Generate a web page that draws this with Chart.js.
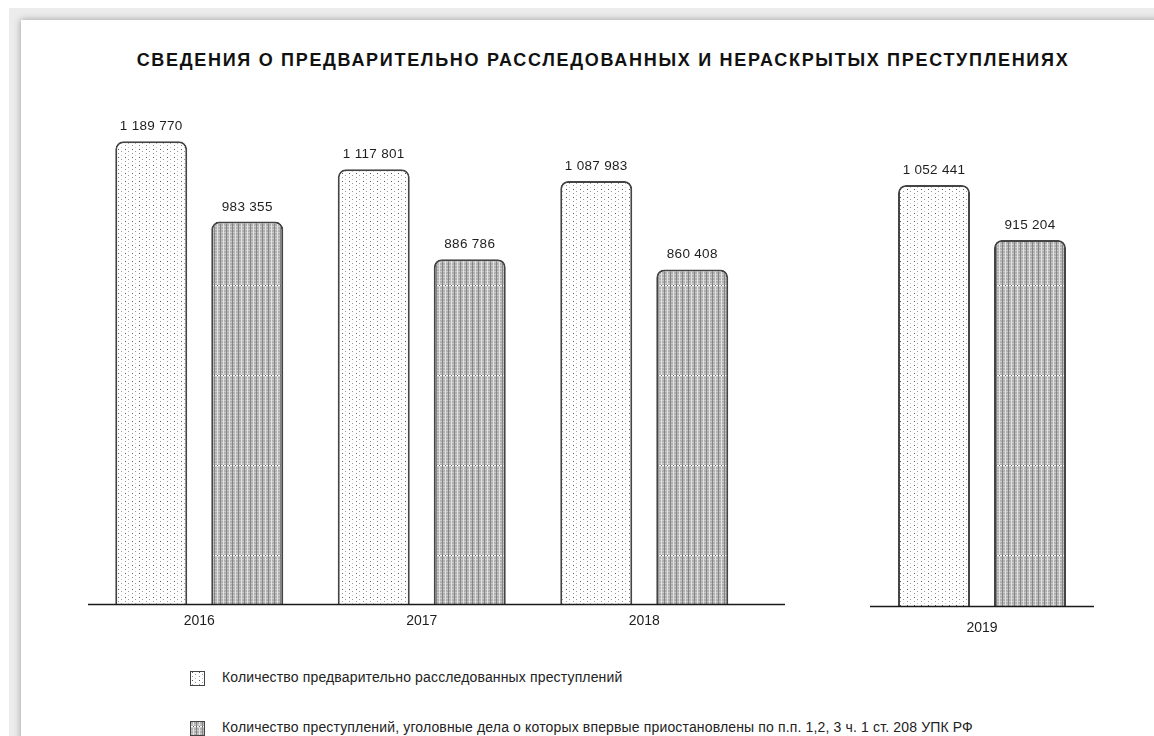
<!DOCTYPE html>
<html lang="ru">
<head>
<meta charset="utf-8">
<script src="https://cdn.jsdelivr.net/npm/chart.js@4"></script>
<style>
  html, body { margin: 0; padding: 0; background: #fff; }
  body { width: 1154px; height: 736px; position: relative; overflow: hidden; font-family: "Liberation Sans", Arial, sans-serif; color: #1e1e1e; }
  #frame { position: absolute; left: 9px; top: 8px; right: 0; bottom: 0; background: #ececec; }
  #page { position: absolute; left: 21px; top: 20px; right: -20px; bottom: -20px; background: #fff; box-shadow: 0 0 7px rgba(0,0,0,0.35); }
  #title { position: absolute; left: 103px; width: 1000px; top: 50px; text-align: center; font-weight: bold; font-size: 18px; letter-spacing: 1.7px; color: #111; }
  canvas.chart { position: absolute; top: 100px; }
  #c1 { left: 88px; }
  #c2 { left: 870px; }
  .leg { position: absolute; left: 190px; font-size: 14px; letter-spacing: 0.15px; color: #222; }
  .leg canvas { position: absolute; left: 0; top: 0; }
  .leg span { position: absolute; left: 32px; top: -2px; white-space: nowrap; }
</style>
</head>
<body>
<div id="frame"></div>
<div id="page"></div>
<div id="title">СВЕДЕНИЯ О ПРЕДВАРИТЕЛЬНО РАССЛЕДОВАННЫХ И НЕРАСКРЫТЫХ ПРЕСТУПЛЕНИЯХ</div>
<canvas id="c1" class="chart" width="697" height="540"></canvas>
<canvas id="c2" class="chart" width="224" height="542"></canvas>
<div class="leg" style="top:671px"><canvas id="l1" width="15" height="15"></canvas><span id="t1"></span></div>
<div class="leg" style="top:721px"><canvas id="l2" width="15" height="15"></canvas><span id="t2"></span></div>
<script>
// data
const years1 = ["2016", "2017", "2018"];
const investigated1 = [1189770, 1117801, 1087983];
const suspended1 = [983355, 886786, 860408];

const years2 = ["2019"];
const investigated2 = [1052441];
const suspended2 = [915204];

const seriesNames = [
    "Количество предварительно расследованных преступлений",
    "Количество преступлений, уголовные дела о которых впервые приостановлены по п.п. 1,2, 3 ч. 1 ст. 208 УПК РФ"
];

const FONT = '"Liberation Sans", Arial, sans-serif';

// fill patterns
function dotPattern(ctx) {
    const c = document.createElement("canvas");
    c.width = 7; c.height = 8;
    const g = c.getContext("2d");
    g.fillStyle = "#fff"; g.fillRect(0, 0, 7, 8);
    g.fillStyle = "#555";
    g.fillRect(2, 1, 1, 1);
    g.fillStyle = "#999";
    g.fillRect(2, 5, 1, 1);
    g.fillRect(5, 3, 1, 1);
    g.fillStyle = "#c4c4c4";
    g.fillRect(5, 7, 1, 1);
    return ctx.createPattern(c, "repeat");
}

function hatchPattern(ctx) {
    const c = document.createElement("canvas");
    c.width = 6; c.height = 90;
    const g = c.getContext("2d");
    g.fillStyle = "#b0b0b0"; g.fillRect(0, 0, 6, 90);
    for (let y = 0; y < 90; y++) {
        g.fillStyle = "#858585"; g.fillRect(0, y, 1, 1);
        g.fillStyle = "#e2e2e2"; g.fillRect(3, y, 1, 1);
        if (y % 3 === 0) { g.fillStyle = "#cacaca"; g.fillRect(1, y, 2, 1); g.fillRect(4, y, 2, 1); }
    }
    g.fillStyle = "#fff"; g.fillRect(1, 5, 2, 1); g.fillRect(4, 5, 2, 1);
    g.fillStyle = "#606060"; g.fillRect(0, 5, 1, 1); g.fillRect(3, 5, 1, 1);
    return ctx.createPattern(c, "repeat");
}

const fmt = v => String(v).replace(/\B(?=(\d{3})+(?!\d))/g, " ");

// value labels above bars
const valueLabels = {
    id: "valueLabels",
    afterDatasetsDraw(chart) {
        const ctx = chart.ctx;
        ctx.save();
        ctx.font = "13.5px " + FONT;
        ctx.letterSpacing = "0.3px";
        ctx.fillStyle = "#1e1e1e";
        ctx.textAlign = "center";
        ctx.textBaseline = "bottom";
        chart.data.datasets.forEach((ds, i) => {
            chart.getDatasetMeta(i).data.forEach((bar, j) => {
                ctx.fillText(fmt(ds.data[j]), bar.x, bar.y - 8);
            });
        });
        ctx.restore();
    }
};

// baseline across the whole canvas
const baseline = {
    id: "baseline",
    afterDatasetsDraw(chart) {
        const ctx = chart.ctx;
        const y = Math.round(chart.scales.y.getPixelForValue(0)) + 0.5;
        ctx.save();
        ctx.strokeStyle = "#1a1a1a";
        ctx.lineWidth = 1.5;
        ctx.beginPath();
        ctx.moveTo(0, y);
        ctx.lineTo(chart.width, y);
        ctx.stroke();
        ctx.restore();
    }
};

function makeChart(id, labels, a, b, yMax, padRight, catPct, tickPad) {
    const ctx = document.getElementById(id).getContext("2d");
    const common = {
        borderColor: "#444",
        borderWidth: 2,
        borderSkipped: "bottom",
        borderRadius: { topLeft: 8, topRight: 8, bottomLeft: 0, bottomRight: 0 },
        barPercentage: 0.75,
        categoryPercentage: catPct
    };
    return new Chart(ctx, {
        type: "bar",
        data: {
            labels: labels,
            datasets: [
                Object.assign({ label: seriesNames[0], data: a, backgroundColor: dotPattern(ctx) }, common),
                Object.assign({ label: seriesNames[1], data: b, backgroundColor: hatchPattern(ctx), borderColor: "#4e4646" }, common)
            ]
        },
        options: {
            responsive: false,
            animation: false,
            layout: { padding: { left: 0, right: padRight, top: 0, bottom: 0 } },
            plugins: { legend: { display: false }, tooltip: { enabled: false } },
            scales: {
                x: {
                    grid: { display: false, drawTicks: false },
                    border: { display: false },
                    ticks: { color: "#1e1e1e", font: { family: FONT, size: 14 }, padding: tickPad },
                    afterFit: s => { s.height = 36; }
                },
                y: { display: false, min: 0, max: yMax }
            }
        },
        plugins: [baseline, valueLabels]
    });
}

makeChart("c1", years1, investigated1, suspended1, 1296000, 29.5, 0.863, 9);
makeChart("c2", years2, investigated2, suspended2, 1265000, 0, 0.857, 14);

// legend
function swatch(id, fn) {
    const ctx = document.getElementById(id).getContext("2d");
    ctx.fillStyle = fn(ctx);
    ctx.fillRect(0, 0, 15, 15);
    ctx.strokeStyle = "#444";
    ctx.lineWidth = 1;
    ctx.strokeRect(0.5, 0.5, 14, 14);
}
swatch("l1", dotPattern);
swatch("l2", hatchPattern);
document.getElementById("t1").textContent = seriesNames[0];
document.getElementById("t2").textContent = seriesNames[1];
</script>
</body>
</html>
